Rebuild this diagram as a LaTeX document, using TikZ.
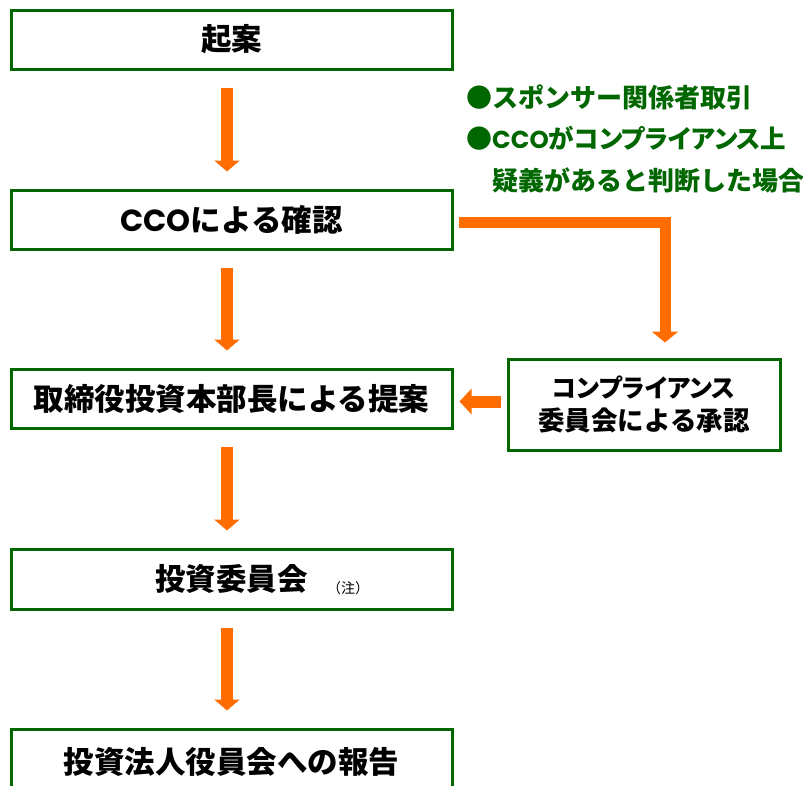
\documentclass[tikz,border=0pt]{standalone}
\usepackage{fontspec}
\setmainfont{Noto Sans CJK JP}
\newfontfamily\latfont{Poppins}
\newfontfamily\propfont{Noto Sans CJK JP}[RawFeature=+palt]
\usetikzlibrary{arrows.meta}
\definecolor{boxgreen}{RGB}{0,102,0}
\definecolor{txtgreen}{RGB}{0,102,0}
\definecolor{arrorange}{RGB}{255,108,0}
\newcommand{\cco}{{\latfont CCO}}
\tikzset{
  flowbox/.style={draw=boxgreen, line width=3pt, fill=white, minimum width=441pt, inner sep=0pt,
    font=\fontsize{30.5}{34}\selectfont\bfseries, text=black},
  sidebox/.style={draw=boxgreen, line width=3pt, fill=white, minimum width=272pt, minimum height=91pt,
    inner sep=0pt, align=center, font=\fontsize{26.5}{33}\selectfont\bfseries, text=black},
  notetxt/.style={anchor=west, inner sep=0pt, text=txtgreen, font=\fontsize{26}{30}\selectfont\bfseries},
  arr/.style={draw=arrorange, line width=12pt, -{Triangle[width=25pt,length=11pt]}, shorten <=17pt, shorten >=17pt},
  elbow/.style={draw=arrorange, line width=11pt, line join=miter, -{Triangle[width=26pt,length=11pt]}},
  harr/.style={draw=arrorange, line width=12pt, -{Triangle[width=25pt,length=12pt]}},
}
\begin{document}
\begin{tikzpicture}[x=1pt,y=-1pt]
\useasboundingbox (0,0) rectangle (803,785);
\clip (0,0) rectangle (803,785);

\node[flowbox, minimum height=59pt] (b1) at (231.5,39.5) {起案};
\node[flowbox, minimum height=59pt] (b2) at (231.5,219.5) {\cco による確認};
\node[flowbox, minimum height=59pt] (b4) at (231.5,398.5) {取締役投資本部長による提案};
\node[flowbox, minimum height=60pt] (b5) at (231.5,579) {投資委員会};
\node[anchor=west, inner sep=0pt, font=\fontsize{14}{16}\selectfont, text=black] (chu) at (327,588) {（注）};
\node[flowbox, minimum height=66pt] (b6) at (231.5,762) {投資法人役員会への報告};

\node[sidebox] (b3) at (644,404.5) {{\propfont\bfseries\fontsize{25}{33}\selectfont コンプライアンス}\\委員会による承認};

\node[notetxt] (n1) at (466,97) {●スポンサー関係者取引};
\node[notetxt] (n2) at (466,138) {●{\fontsize{24.5}{30}\selectfont\cco}{\propfont\bfseries\fontsize{25.5}{30}\selectfont がコンプライアンス上}};
\node[notetxt] (n3) at (492,180) {疑義があると判断した場合};

\draw[arr] ([xshift=-4.5pt]b1.south) -- ([xshift=-4.5pt]b2.north);
\draw[arr] ([xshift=-4.5pt]b2.south) -- ([xshift=-4.5pt]b4.north);
\draw[arr] ([xshift=-4.5pt]b4.south) -- ([xshift=-4.5pt]b5.north);
\draw[arr] ([xshift=-4.5pt]b5.south) -- ([xshift=-4.5pt]b6.north);

\draw[elbow] ([shift={(5,2.5)}]b2.east) -| ([shift={(21,-15)}]b3.north);
\draw[harr] ([shift={(-6,-3)}]b3.west) -- ([shift={(6,3)}]b4.east);
\end{tikzpicture}
\end{document}
